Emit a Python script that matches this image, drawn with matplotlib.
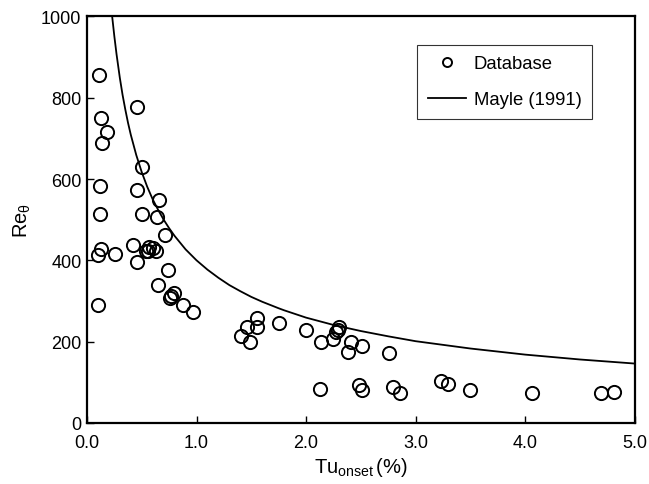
import matplotlib
matplotlib.use("Agg")
import matplotlib.pyplot as plt

plt.rcParams['font.family'] = ['Liberation Sans', 'DejaVu Sans']
plt.rcParams['mathtext.fontset'] = 'custom'
plt.rcParams['mathtext.rm'] = 'Liberation Sans'
plt.rcParams['mathtext.it'] = 'Liberation Sans:italic'

# Transition onset database
tu_data = [0.11, 0.13, 0.14, 0.18, 0.12, 0.12, 0.13, 0.10, 0.26, 0.10,
           0.46, 0.50, 0.46, 0.66, 0.50, 0.64, 0.71, 0.42, 0.46, 0.54,
           0.57, 0.60, 0.63, 0.56, 0.74, 0.65, 0.79, 0.76, 0.77, 0.88,
           0.97, 1.41, 1.46, 1.49, 1.55, 1.55, 1.75, 2.00, 2.14, 2.13,
           2.25, 2.27, 2.30, 2.29, 2.41, 2.38, 2.51, 2.48, 2.51, 2.76,
           2.79, 2.86, 3.23, 3.30, 3.50, 4.06, 4.69, 4.81]
re_data = [856, 750, 689, 715, 582, 514, 428, 412, 416, 290,
           777, 630, 574, 549, 514, 506, 463, 438, 397, 424,
           432, 430, 422, 422, 376, 340, 319, 307, 313, 290,
           272, 215, 235, 198, 258, 235, 246, 229, 200, 84,
           207, 223, 235, 228, 200, 174, 189, 92, 80, 171,
           88, 74, 104, 95, 81, 73, 74, 77]

# Mayle (1991) correlation curve
tu_mayle = [0.23, 0.25, 0.27, 0.30, 0.325, 0.35, 0.375, 0.40, 0.45, 0.50,
            0.55, 0.60, 0.65, 0.70, 0.75, 0.80, 0.90, 1.00, 1.10, 1.20,
            1.30, 1.40, 1.50, 1.60, 1.75, 1.80, 2.00, 2.25, 2.50, 2.75,
            3.00, 3.50, 4.00, 4.50, 5.00]
re_mayle = [1000, 951, 907, 849, 807, 771, 738, 709, 659, 617,
            581, 550, 524, 500, 479, 460, 427, 400, 377, 357,
            339, 324, 310, 298, 282, 277, 259, 241, 226, 213,
            201, 183, 168, 156, 146]

x_ticks = [0.0, 1.0, 2.0, 3.0, 4.0, 5.0]
x_tick_labels = ['0.0', '1.0', '2.0', '3.0', '4.0', '5.0']
y_ticks = [0, 200, 400, 600, 800, 1000]

fig = plt.figure(figsize=(6.49, 4.85), dpi=100)
ax = fig.add_axes([0.134, 0.126, 0.844, 0.838])

ax.plot(tu_data, re_data, linestyle='none', marker='o', markersize=9.5,
        markerfacecolor='none', markeredgecolor='black', markeredgewidth=1.4,
        label='Database', clip_on=False)
ax.plot(tu_mayle, re_mayle, color='black', linewidth=1.3, label='Mayle (1991)')

ax.set_xlim(0, 5)
ax.set_ylim(0, 1000)
ax.set_xticks(x_ticks)
ax.set_xticklabels(x_tick_labels)
ax.set_yticks(y_ticks)
ax.tick_params(direction='in', length=5, width=1, labelsize=13)
ax.tick_params(axis='x', pad=8)
ax.tick_params(axis='y', pad=4)

for side in ['left', 'bottom', 'right', 'top']:
    ax.spines[side].set_linewidth(1.6)

ax.set_xlabel(r'Tu$_{\mathrm{onset}}$$\,$(%)', fontsize=14.5, labelpad=3)
ax.set_ylabel(r'Re$_{\mathrm{θ}}$', fontsize=14.5, labelpad=6)

leg = ax.legend(loc='upper right', bbox_to_anchor=(0.9215, 0.93), fontsize=13.3,
                frameon=True, fancybox=False, borderpad=0.55, labelspacing=1.05,
                handlelength=2.1, handletextpad=0.4, borderaxespad=0)
leg.get_frame().set_edgecolor('black')
leg.get_frame().set_linewidth(0.8)
leg.legend_handles[0].set_markersize(6.5)

fig.savefig('out.png', dpi=100)
